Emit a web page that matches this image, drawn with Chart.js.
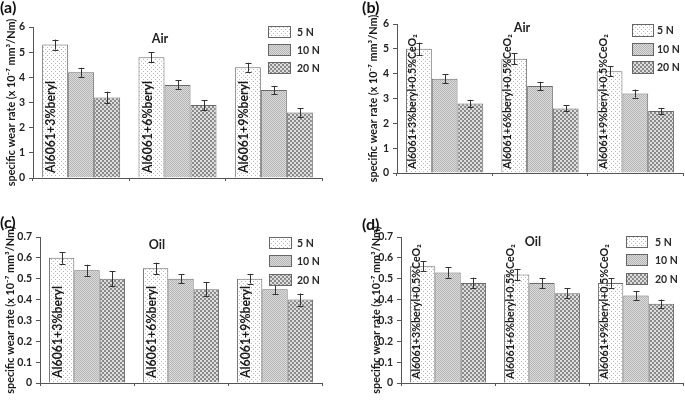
<!DOCTYPE html>
<html><head><meta charset="utf-8">
<script src="https://cdn.jsdelivr.net/npm/chart.js@4"></script>
<style>
html,body{margin:0;padding:0;background:#fff;}
body{width:685px;height:403px;position:relative;overflow:hidden;}
.panel{position:absolute;}
</style></head><body>
<div class="panel" style="left:0;top:0;width:340px;height:200px"><canvas id="ca"></canvas></div>
<div class="panel" style="left:340px;top:0;width:345px;height:200px"><canvas id="cb"></canvas></div>
<div class="panel" style="left:0;top:200px;width:340px;height:203px"><canvas id="cc"></canvas></div>
<div class="panel" style="left:340px;top:200px;width:345px;height:203px"><canvas id="cd"></canvas></div>
<script>
// ---- data ----
const loads = ['5 N', '10 N', '20 N'];
const catsBeryl = ['Al6061+3%beryl', 'Al6061+6%beryl', 'Al6061+9%beryl'];
const catsCeO2 = ['Al6061+3%beryl+0.5%CeO₂', 'Al6061+6%beryl+0.5%CeO₂', 'Al6061+9%beryl+0.5%CeO₂'];
const yTitle = 'specific wear rate (x 10⁻⁷ mm³/Nm)';

// (a) Air, beryl
const airBeryl5 = [5.3, 4.8, 4.4];
const airBeryl10 = [4.2, 3.7, 3.5];
const airBeryl20 = [3.2, 2.9, 2.6];
const airBerylErr5 = [0.2, 0.2, 0.18];
const airBerylErr10 = [0.18, 0.18, 0.16];
const airBerylErr20 = [0.23, 0.2, 0.17];
// (b) Air, beryl + CeO2
const airCe5 = [5.0, 4.6, 4.1];
const airCe10 = [3.8, 3.5, 3.2];
const airCe20 = [2.8, 2.6, 2.5];
const airCeErr5 = [0.25, 0.23, 0.2];
const airCeErr10 = [0.18, 0.17, 0.16];
const airCeErr20 = [0.15, 0.12, 0.12];
// (c) Oil, beryl
const oilBeryl5 = [0.60, 0.55, 0.50];
const oilBeryl10 = [0.54, 0.50, 0.45];
const oilBeryl20 = [0.50, 0.45, 0.40];
const oilBerylErr5 = [0.028, 0.027, 0.023];
const oilBerylErr10 = [0.027, 0.022, 0.024];
const oilBerylErr20 = [0.035, 0.032, 0.029];
// (d) Oil, beryl + CeO2
const oilCe5 = [0.56, 0.52, 0.48];
const oilCe10 = [0.53, 0.48, 0.42];
const oilCe20 = [0.48, 0.43, 0.38];
const oilCeErr5 = [0.025, 0.027, 0.023];
const oilCeErr10 = [0.025, 0.024, 0.021];
const oilCeErr20 = [0.025, 0.024, 0.02];

// ---- patterns ----
function tile(w, h, draw) {
  const c = document.createElement('canvas'); c.width = w; c.height = h;
  const g = c.getContext('2d'); draw(g);
  return g.createPattern(c, 'repeat');
}
const pat5 = tile(4, 4, g => { g.fillStyle = '#ffffff'; g.fillRect(0,0,4,4); g.fillStyle = '#b8b8b8'; g.fillRect(1,1,1,1); g.fillRect(3,3,1,1); });
const pat10 = tile(2, 2, g => { g.fillStyle = '#dcdcdc'; g.fillRect(0,0,2,2); g.fillStyle = '#b4b4b4'; g.fillRect(0,0,1,1); g.fillRect(1,1,1,1); });
const pat20 = tile(4, 4, g => { g.fillStyle = '#8a8a8a'; g.fillRect(0,0,4,4); g.fillStyle = '#dedede'; g.fillRect(0,0,2,2); g.fillRect(2,2,2,2); });
const pats = [pat5, pat10, pat20];

const FONT = 'Lato, "Liberation Sans", sans-serif';

const decoPlugin = {
  id: 'deco',
  afterDatasetsDraw(chart, args, o) {
    const ctx = chart.ctx, ys = chart.scales.y;
    ctx.save();
    // error bars
    chart.data.datasets.forEach((ds, di) => {
      const meta = chart.getDatasetMeta(di);
      meta.data.forEach((bar, i) => {
        const v = ds.data[i], e = ds.errors[i];
        const y1 = ys.getPixelForValue(v - e), y2 = ys.getPixelForValue(v + e);
        ctx.strokeStyle = '#333'; ctx.lineWidth = 1;
        ctx.beginPath();
        const x = Math.round(bar.x) + 0.5;
        ctx.moveTo(x, y1); ctx.lineTo(x, y2);
        ctx.moveTo(x - 3, Math.round(y1) + 0.5); ctx.lineTo(x + 3, Math.round(y1) + 0.5);
        ctx.moveTo(x - 3, Math.round(y2) + 0.5); ctx.lineTo(x + 3, Math.round(y2) + 0.5);
        ctx.stroke();
      });
    });
    // category labels inside first bar
    const meta0 = chart.getDatasetMeta(0);
    ctx.fillStyle = '#1a1a1a';
    ctx.font = o.catFont;
    ctx.textAlign = 'left'; ctx.textBaseline = 'top';
    chart.data.labels.forEach((lab, i) => {
      const bar = meta0.data[i];
      const left = bar.x - bar.width / 2;
      ctx.save();
      ctx.translate(left + o.catOffset, ys.bottom - o.catBottom);
      ctx.rotate(-Math.PI / 2);
      ctx.fillText(lab, 0, 0);
      ctx.restore();
    });
    // legend
    ctx.font = 'bold 10.5px ' + FONT;
    ctx.textBaseline = 'middle';
    chart.data.datasets.forEach((ds, di) => {
      const y = o.legYs[di];
      ctx.fillStyle = ds.backgroundColor;
      ctx.fillRect(o.legX, y, o.legW, o.legH);
      ctx.strokeStyle = '#666';
      ctx.strokeRect(o.legX + 0.5, y + 0.5, o.legW, o.legH);
      ctx.fillStyle = '#2a2a2a';
      ctx.fillText(ds.label, o.legLabelX, y + o.legH / 2 + 1);
    });
    // medium title
    ctx.font = 'bold 12.5px ' + FONT;
    ctx.textAlign = 'center';
    ctx.fillStyle = '#222';
    ctx.fillText(o.title, o.titleX, o.titleY);
    // panel letter
    ctx.font = 'bold 16px ' + FONT;
    ctx.textAlign = 'left';
    ctx.fillStyle = '#111';
    ctx.fillText(o.letter, o.letterX, o.letterY);
    ctx.restore();
  }
};

function makeChart(id, P) {
  const datasets = [P.v5, P.v10, P.v20].map((d, i) => ({
    label: loads[i], data: d, errors: [P.e5, P.e10, P.e20][i],
    backgroundColor: pats[i], borderColor: '#6a6a6a', borderWidth: 1,
    categoryPercentage: 0.81, barPercentage: 1.0
  }));
  return new Chart(document.getElementById(id), {
    type: 'bar',
    data: { labels: P.cats, datasets },
    plugins: [decoPlugin],
    options: {
      responsive: true, maintainAspectRatio: false, animation: false,
      layout: { padding: { left: P.padL, top: P.padT, right: P.padR, bottom: 0 } },
      plugins: { legend: { display: false }, tooltip: { enabled: false }, deco: P.deco },
      scales: {
        x: {
          offset: true,
          grid: { display: true, drawOnChartArea: false, drawTicks: true, tickLength: 3, color: '#555', offset: true },
          border: { display: true, color: '#555', width: 1 },
          ticks: { display: false },
          afterFit: s => { s.height = P.xH; }
        },
        y: {
          min: 0, max: P.max,
          ticks: { stepSize: P.step, color: '#222', padding: 4, font: { family: FONT, size: 10.5, weight: 'bold' } },
          grid: { drawOnChartArea: false, drawTicks: true, tickLength: 4, color: '#555' },
          border: { display: true, color: '#555', width: 1 },
          title: { display: true, text: yTitle, color: '#1a1a1a', padding: { top: 4, bottom: 0 }, font: { family: FONT, size: 10.8, weight: 'bold' } },
          afterFit: s => { s.width = P.yW; }
        }
      }
    }
  });
}

const catFontA = 'bold 12.3px ' + FONT;
const catFontB = 'bold 10.7px ' + FONT;

makeChart('ca', {
  cats: catsBeryl, v5: airBeryl5, v10: airBeryl10, v20: airBeryl20,
  e5: airBerylErr5, e10: airBerylErr10, e20: airBerylErr20,
  max: 6, step: 1, padL: 1, padT: 27, padR: 18, yW: 32, xH: 22,
  deco: { catFont: catFontA, catOffset: 3, catBottom: 5, legX: 268, legW: 22, legH: 11, legYs: [26, 44, 62], legLabelX: 297,
          title: 'Air', titleX: 160, titleY: 39, letter: '(a)', letterX: 0, letterY: 8 }
});
makeChart('cb', {
  cats: catsCeO2, v5: airCe5, v10: airCe10, v20: airCe20,
  e5: airCeErr5, e10: airCeErr10, e20: airCeErr20,
  max: 6, step: 1, padL: 23, padT: 24, padR: 2, yW: 34, xH: 27,
  deco: { catFont: catFontB, catOffset: 1, catBottom: 4, legX: 292, legW: 21, legH: 12, legYs: [24, 43, 61], legLabelX: 317,
          title: 'Air', titleX: 182, titleY: 28, letter: '(b)', letterX: 22, letterY: 8 }
});
makeChart('cc', {
  cats: catsBeryl, v5: oilBeryl5, v10: oilBeryl10, v20: oilBeryl20,
  e5: oilBerylErr5, e10: oilBerylErr10, e20: oilBerylErr20,
  max: 0.7, step: 0.1, padL: 0, padT: 37, padR: 18, yW: 40, xH: 20,
  deco: { catFont: catFontA, catOffset: 3, catBottom: 5, legX: 269, legW: 22, legH: 11, legYs: [37, 55, 74], legLabelX: 297,
          title: 'Oil', titleX: 157, titleY: 45, letter: '(c)', letterX: 0, letterY: 23 }
});
makeChart('cd', {
  cats: catsCeO2, v5: oilCe5, v10: oilCe10, v20: oilCe20,
  e5: oilCeErr5, e10: oilCeErr10, e20: oilCeErr20,
  max: 0.7, step: 0.1, padL: 26, padT: 37, padR: 2, yW: 35, xH: 20,
  deco: { catFont: catFontB, catOffset: 1, catBottom: 4, legX: 286, legW: 21, legH: 11, legYs: [36, 54, 73], legLabelX: 315,
          title: 'Oil', titleX: 193, titleY: 42, letter: '(d)', letterX: 22, letterY: 25 }
});
</script>
</body></html>
